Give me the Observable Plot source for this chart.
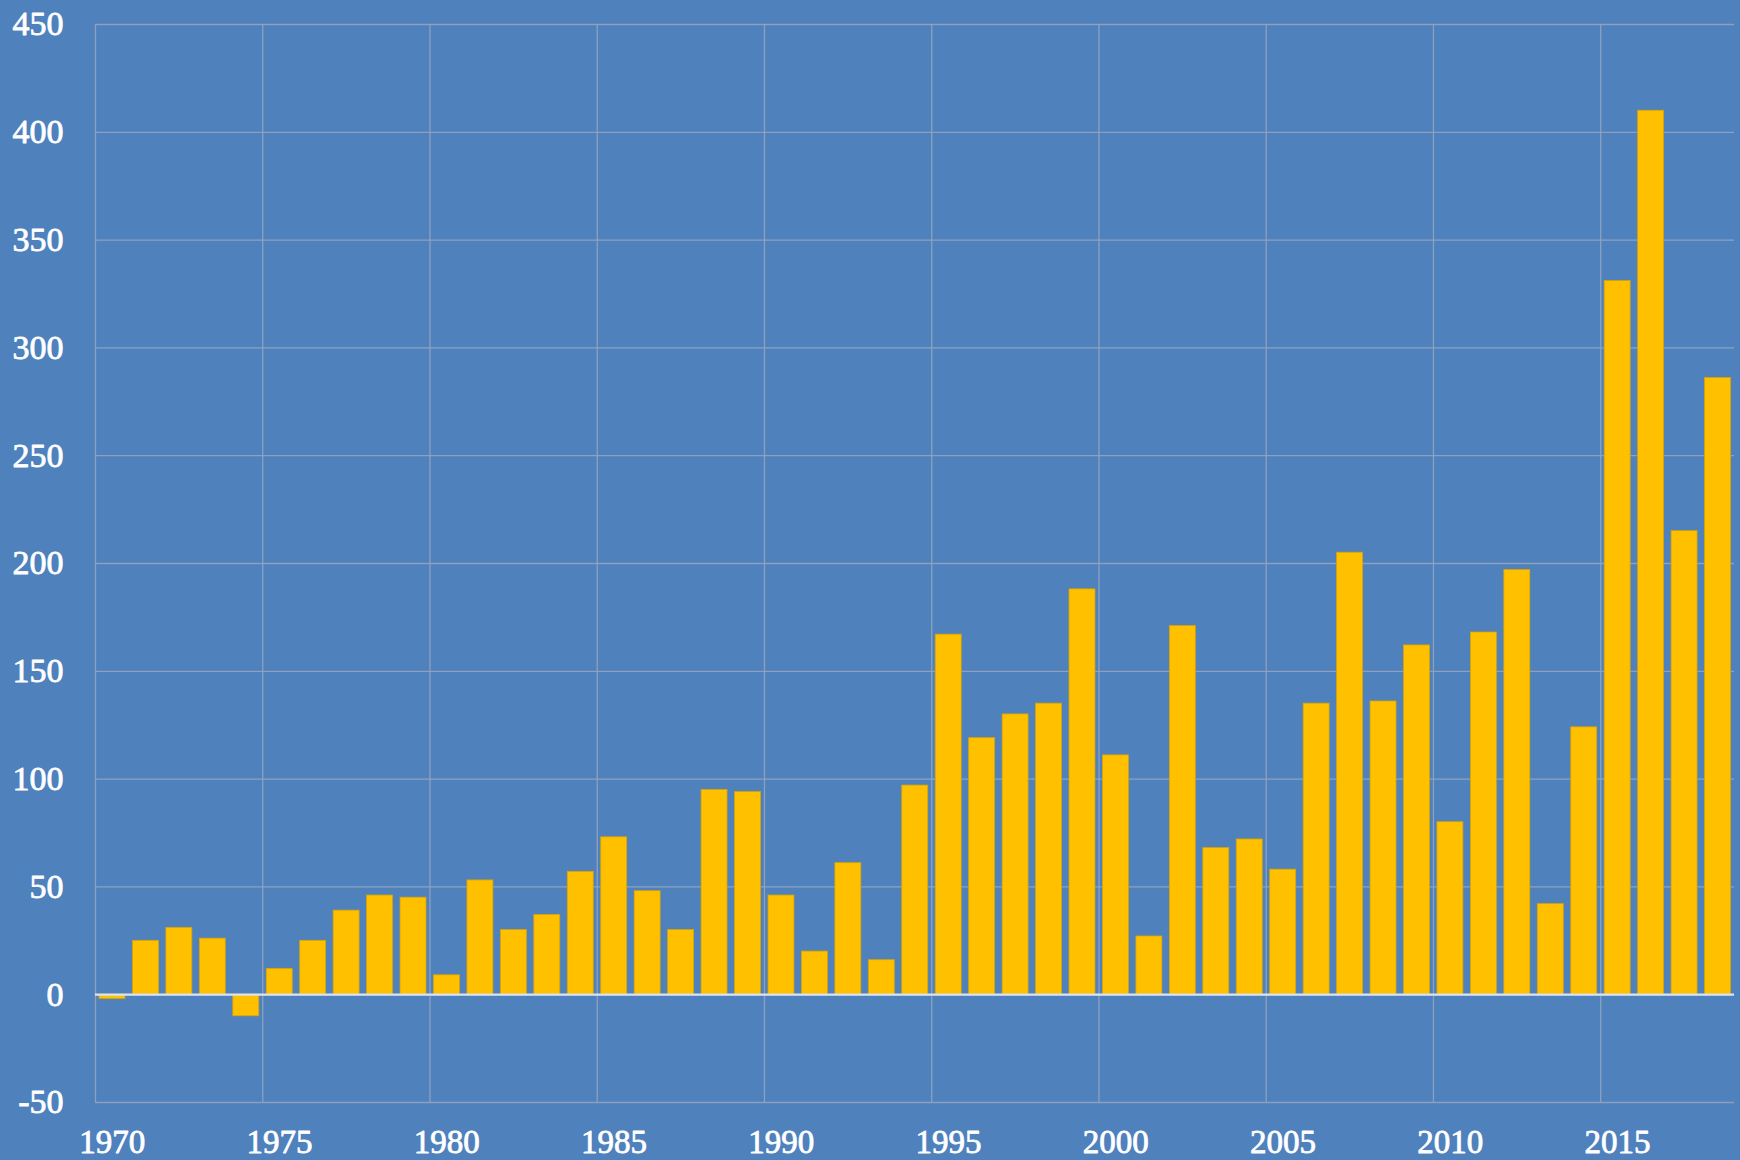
<!DOCTYPE html>
<html>
<head>
<meta charset="utf-8">
<script src="https://cdn.jsdelivr.net/npm/d3@7"></script>
<script src="https://cdn.jsdelivr.net/npm/@observablehq/plot@0.6"></script>
<style>
  html, body { margin: 0; padding: 0; background: #4f81bd; overflow: hidden; }
  #chart svg { display: block; }
</style>
</head>
<body>
<div id="chart"></div>
<script>
const years = d3.range(1970, 2019);
const values = [
  -2, 25, 31, 26, -10, 12, 25, 39, 46, 45,
  9, 53, 30, 37, 57, 73, 48, 30, 95, 94,
  46, 20, 61, 16, 97, 167, 119, 130, 135, 188,
  111, 27, 171, 68, 72, 58, 135, 205, 136, 162,
  80, 168, 197, 42, 124, 331, 410, 215, 286
];
const xTicks = [1970, 1975, 1980, 1985, 1990, 1995, 2000, 2005, 2010, 2015];
const yTicks = [-50, 0, 50, 100, 150, 200, 250, 300, 350, 400, 450];

const data = years.map((year, i) => ({year, value: values[i]}));

const gridColor = "#93a4bf";

const chart = Plot.plot({
  width: 1740,
  height: 1160,
  marginLeft: 95,
  marginRight: 6,
  marginTop: 24,
  marginBottom: 58,
  style: {
    background: "#4f81bd",
    color: "#ffffff",
    fontFamily: "'Liberation Serif', 'DejaVu Serif', serif",
    fontSize: "34px"
  },
  x: {type: "linear", domain: [1970, 2019], axis: null},
  y: {domain: [-50, 450], axis: null},
  marks: [
    Plot.gridY(yTicks, {stroke: gridColor, strokeOpacity: 0.9, strokeWidth: 1.3}),
    Plot.gridX(xTicks, {stroke: gridColor, strokeOpacity: 0.9, strokeWidth: 1.3}),
    Plot.rectY(data, {
      x1: "year",
      x2: d => d.year + 1,
      y: "value",
      fill: "#ffc000",
      stroke: "#d9a400",
      strokeWidth: 0.8,
      insetLeft: 4,
      insetRight: 3.5
    }),
    Plot.ruleY([0], {stroke: "#dde3ee", strokeWidth: 2.2}),
    Plot.text(yTicks, {
      x: 1970,
      y: d => d,
      text: d => String(d),
      textAnchor: "end",
      dx: -32,
      fill: "#ffffff",
      stroke: "#ffffff",
      strokeWidth: 0.8,
      fontSize: 34
    }),
    Plot.text(xTicks, {
      x: d => d + 0.5,
      y: -50,
      text: d => String(d),
      dy: 40,
      fill: "#ffffff",
      stroke: "#ffffff",
      strokeWidth: 0.8,
      fontSize: 33
    })
  ]
});

document.getElementById("chart").appendChild(chart);
</script>
</body>
</html>
